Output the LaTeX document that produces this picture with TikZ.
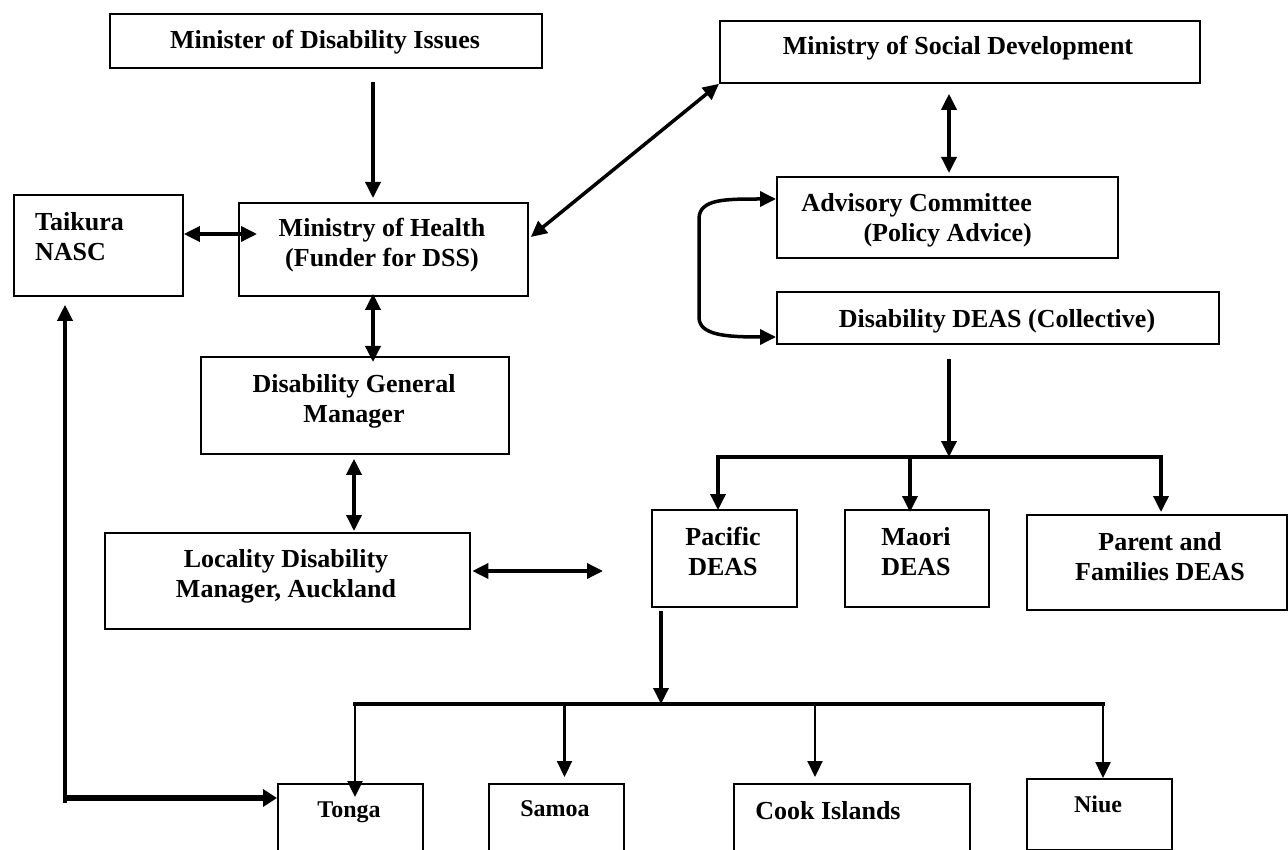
\documentclass[tikz,border=0pt]{standalone}
\usepackage{fontspec}
\setmainfont{Liberation Serif}
\usetikzlibrary{arrows.meta,calc}
\begin{document}
\begin{tikzpicture}[x=1pt,y=-1pt,
  box/.style={draw, line width=1.8pt, rectangle, inner sep=0pt, anchor=north west},
  txt/.style={font=\fontsize{26}{30}\selectfont\bfseries, inner sep=0pt, align=center},
  stxt/.style={font=\fontsize{24}{28}\selectfont\bfseries, inner sep=0pt, align=center},
  tip/.style={-{Triangle[length=16pt,width=15pt]}},
  both/.style={{Triangle[length=16pt,width=15pt]}-{Triangle[length=16pt,width=15pt]}},
  conn/.style={line width=3.5pt},
  busline/.style={line width=4.5pt, line cap=rect}
  ]
\useasboundingbox (0,0) rectangle (1288,850);
\clip (0,0) rectangle (1288,850);
\fill[white] (0,0) rectangle (1288,850);

% boxes
\node[box, minimum width=432pt, minimum height=54pt] (min) at (109,13) {};
\node[box, minimum width=480pt, minimum height=62pt] (msd) at (719,20) {};
\node[box, minimum width=169pt, minimum height=101pt] (tai) at (13,194) {};
\node[box, minimum width=289pt, minimum height=93pt] (moh) at (238,202) {};
\node[box, minimum width=341pt, minimum height=81pt] (adv) at (776,176) {};
\node[box, minimum width=442pt, minimum height=52pt] (dea) at (776,291) {};
\node[box, minimum width=308pt, minimum height=97pt] (dgm) at (200,356) {};
\node[box, minimum width=365pt, minimum height=96pt] (ldm) at (104,532) {};
\node[box, minimum width=145pt, minimum height=97pt] (pac) at (651,509) {};
\node[box, minimum width=144pt, minimum height=97pt] (mao) at (844,509) {};
\node[box, minimum width=260pt, minimum height=95pt] (par) at (1026,514) {};
\node[box, minimum width=145pt, minimum height=120pt] (ton) at (277,783) {};
\node[box, minimum width=135pt, minimum height=120pt] (sam) at (488,783) {};
\node[box, minimum width=236pt, minimum height=120pt] (coo) at (733,783) {};
\node[box, minimum width=145pt, minimum height=71pt] (niu) at (1026,778) {};

% texts (multi-line nodes: base = last line's baseline)
\node[txt, anchor=base] (mint) at (325,49) {Minister of Disability Issues};
\node[txt, anchor=base] (msdt) at (958,55) {Ministry of Social Development};
\node[txt, anchor=base west, align=left] (tait) at (35,261) {Taikura\\NASC};
\node[txt, anchor=base] (moht) at (382,267) {Ministry of Health\\(Funder for DSS)};
\node[txt, anchor=base east, align=right] (advt) at (1032,242) {Advisory Committee\\(Policy Advice)};
\node[txt, anchor=base] (deat) at (997,327) {Disability DEAS (Collective)};
\node[txt, anchor=base] (dgmt) at (354,422) {Disability General\\Manager};
\node[txt, anchor=base] (ldmt) at (286,597) {Locality Disability\\Manager, Auckland};
\node[txt, anchor=base] (pact) at (723,575) {Pacific\\DEAS};
\node[txt, anchor=base] (maot) at (916,575) {Maori\\DEAS};
\node[txt, anchor=base] (part) at (1160,580) {Parent and\\Families DEAS};
\node[stxt, anchor=base] (tont) at (349,817) {Tonga};
\node[stxt, anchor=base] (samt) at (555,816) {Samoa};
\node[txt, anchor=base] (coot) at (828,819) {Cook Islands};
\node[stxt, anchor=base] (niut) at (1098,812) {Niue};

% connectors
\draw[conn, tip] ($(min.south west)+(264,13)$) -- ($(moh.north west)+(135,-4)$);
\draw[conn, both] ($(tai.north east)+(0,40)$) -- ($(moh.north west)+(19,32)$);
\draw[conn, both] ($(moh.north east)+(2,35)$) -- (msd.south west);
\draw[conn, both] ($(moh.south west)+(135,-3)$) -- ($(dgm.north west)+(173,6)$);
\draw[conn, both] ($(dgm.south west)+(154,4)$) -- ($(ldm.north west)+(250,-1)$);
\coordinate (ldmend) at (603,571);
\draw[conn, both] ($(ldm.north east)+(1.5,39)$) -- (ldmend);
\draw[conn, both] ($(msd.south west)+(230,10)$) -- ($(adv.north west)+(173,-3)$);
\draw[conn, both] ($(adv.north west)+(0,23)$) .. controls (725,199) and (700,199) .. (699,218)
   -- (699,318) .. controls (700,335) and (725,337) .. ($(dea.north west)+(0,46)$);

\coordinate (jl) at (718,457);
\coordinate (jm) at (910,457);
\coordinate (jc) at (949,457);
\coordinate (jr) at (1161,457);
\draw[conn, tip] ($(dea.south west)+(173,14)$) -- (jc);
\draw[busline] (jl) -- (jr);
\draw[conn, tip] (jl) -- ($(pac.north west)+(67,1)$);
\draw[conn, tip] (jm) -- ($(mao.north west)+(66,3)$);
\draw[conn, tip] (jr) -- ($(par.north west)+(135,-2)$);

\coordinate (k1) at (355,704);
\coordinate (k2) at (564.5,704);
\coordinate (k3) at (815,702);
\coordinate (kc) at (661,704);
\coordinate (k4) at (1103,704);
\draw[conn, tip] ($(pac.south west)+(10,3)$) -- (kc);
\draw[busline] (k1) -- (k4);
\draw[line width=2.5pt, tip] (k1) -- ($(ton.north west)+(78,14)$);
\draw[line width=2.2pt, tip] (k2) -- ($(sam.north west)+(76.5,-6)$);
\draw[line width=2.2pt, tip] (k3) -- ($(coo.north west)+(82,-6)$);
\draw[line width=2.5pt, tip] (k4) -- ($(niu.north west)+(77,0)$);

\coordinate (lb) at (65,803);
\draw[conn, tip] (lb) -- ($(tai.south west)+(52,8)$);
\draw[line width=5.5pt, -{Triangle[length=14pt,width=17pt]}] ($(lb)+(-1.75,-5)$) -- ($(ton.north west)+(0,15)$);
\end{tikzpicture}
\end{document}
